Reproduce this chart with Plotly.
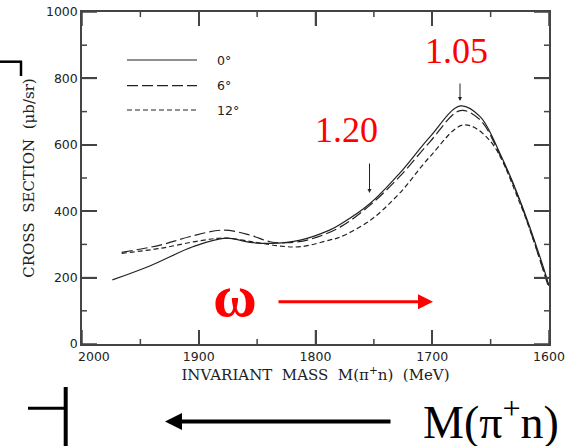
import plotly.graph_objects as go

# ---- data ----
mass_0 = [1974, 1942, 1905, 1877, 1856, 1839, 1813, 1788, 1779, 1753, 1728, 1702, 1676, 1659, 1642, 1625, 1605, 1600]
cs_0 = [193, 235, 293, 319, 306, 303, 313, 343, 360, 424, 514, 624, 717, 685, 574, 434, 233, 175]

mass_6 = [1966, 1933, 1908, 1879, 1856, 1839, 1825, 1805, 1779, 1753, 1728, 1702, 1676, 1659, 1642, 1625, 1601]
cs_6 = [276, 298, 323, 343, 328, 308, 305, 315, 352, 419, 504, 609, 703, 675, 569, 431, 178]

mass_12 = [1966, 1933, 1899, 1877, 1851, 1830, 1813, 1788, 1779, 1753, 1728, 1702, 1673, 1651, 1625, 1601]
cs_12 = [273, 288, 311, 319, 306, 295, 293, 313, 322, 373, 454, 564, 660, 614, 425, 182]

angle_labels = ["0°", "6°", "12°"]
x_tickvals = [2000, 1900, 1800, 1700, 1600]
x_ticklabels = ["\u00a0" * 6 + "2000", "1900", "1800", "1700", "1600"]
x_minor_vals = [1950, 1850, 1750, 1650]
y_tickvals = [0, 200, 400, 600, 800, 1000]
y_minor_vals = [100, 300, 500, 700, 900]
x_range = [2000, 1600]
y_range = [0, 1000]

# ---- geometry helpers (pixel -> paper) ----
W, H = 577, 446
L, R, T, B = 82, 549, 12, 344


def px(x):
    return (x - L) / (R - L)


def py(y):
    return (B - y) / (B - T)


line_col = "#222222"
axis_col = "#444444"
dash_styles = ["solid", "11px,4px", "5px,3px"]

fig = go.Figure()
for xs, ys, name, dash in zip([mass_0, mass_6, mass_12], [cs_0, cs_6, cs_12], angle_labels, dash_styles):
    fig.add_trace(go.Scatter(
        x=xs, y=ys, mode="lines", name=name, showlegend=False,
        line=dict(color=line_col, width=1.2, dash=dash, shape="spline", smoothing=1.0),
        hoverinfo="skip",
    ))

shapes = []
annotations = []

# tick marks on all four sides, positioned by the axes' own scales (pixel lengths)
tick_line = dict(color=axis_col, width=1.5)
for vals, ln in ((x_tickvals, 14), (x_minor_vals, 5)):
    for v in vals:
        for anchor, sgn in ((0, 1), (1, -1)):
            shapes.append(dict(type="line", xref="x", yref="y domain", ysizemode="pixel", yanchor=anchor,
                               x0=v, x1=v, y0=0, y1=sgn * ln, line=tick_line, layer="above"))
for vals, ln in ((y_tickvals, 15), (y_minor_vals, 5)):
    for v in vals:
        for anchor, sgn in ((0, 1), (1, -1)):
            shapes.append(dict(type="line", yref="y", xref="x domain", xsizemode="pixel", xanchor=anchor,
                               y0=v, y1=v, x0=0, x1=sgn * ln, line=tick_line, layer="above"))

# manual legend
leg_y = [60, 85.7, 110]
for lab, dash, yy in zip(angle_labels, dash_styles, leg_y):
    shapes.append(dict(type="line", xref="paper", yref="paper",
                       x0=px(127), x1=px(197), y0=py(yy), y1=py(yy),
                       line=dict(color=line_col, width=1.2, dash=dash)))
    annotations.append(dict(xref="paper", yref="paper", x=px(215), y=py(yy),
                            text=lab, showarrow=False, xanchor="left", yanchor="middle",
                            font=dict(family="DejaVu Sans", size=12.5, color="#222")))

# red labels
red = "#ff0000"
annotations.append(dict(xref="paper", yref="paper", x=px(456), y=py(51), text="1.05",
                        showarrow=False, xanchor="center", yanchor="middle",
                        font=dict(family="Liberation Serif", size=36, color=red)))
annotations.append(dict(xref="paper", yref="paper", x=px(346.5), y=py(130), text="1.20",
                        showarrow=False, xanchor="center", yanchor="middle",
                        font=dict(family="Liberation Serif", size=36, color=red)))
annotations.append(dict(xref="paper", yref="paper", x=px(235), y=py(296), text="<b>ω</b>",
                        showarrow=False, xanchor="center", yanchor="middle",
                        font=dict(family="Liberation Serif", size=60, color=red)))
# red arrow
annotations.append(dict(xref="paper", yref="paper", x=px(433), y=py(301.7), ax=-(433 - 277), ay=0,
                        text="", showarrow=True, arrowhead=2, arrowsize=1, arrowwidth=3,
                        arrowcolor=red))
# small black arrows
annotations.append(dict(xref="paper", yref="paper", x=px(460), y=py(101), ax=0, ay=-19,
                        text="", showarrow=True, arrowhead=2, arrowsize=0.8, arrowwidth=1,
                        arrowcolor="#222"))
annotations.append(dict(xref="paper", yref="paper", x=px(369.5), y=py(193), ax=0, ay=-31,
                        text="", showarrow=True, arrowhead=2, arrowsize=0.8, arrowwidth=1,
                        arrowcolor="#222"))
# big black arrow and label at the bottom
annotations.append(dict(xref="paper", yref="paper", x=px(165), y=py(421.5), ax=(392 - 165), ay=0,
                        text="", showarrow=True, arrowhead=2, arrowsize=0.85, arrowwidth=4,
                        arrowcolor="#000"))
annotations.append(dict(xref="paper", yref="paper", x=px(491), y=py(419),
                        text="M(π<sup>+</sup>n)", showarrow=False, xanchor="center", yanchor="middle",
                        font=dict(family="Liberation Serif", size=46, color="#000")))

# bracket decorations
shapes += [
    dict(type="line", xref="paper", yref="paper", x0=px(0), x1=px(22), y0=py(61.7), y1=py(61.7),
         line=dict(color="#000", width=2.5)),
    dict(type="line", xref="paper", yref="paper", x0=px(21), x1=px(21), y0=py(61), y1=py(76),
         line=dict(color="#000", width=2.5)),
    dict(type="line", xref="paper", yref="paper", x0=px(65.7), x1=px(65.7), y0=py(387), y1=py(447),
         line=dict(color="#000", width=4)),
    dict(type="line", xref="paper", yref="paper", x0=px(28), x1=px(65), y0=py(408.3), y1=py(408.3),
         line=dict(color="#000", width=3)),
]

axis_common = dict(
    showline=True, linecolor=axis_col, linewidth=1.5, mirror="ticks",
    ticks="inside", tickcolor=axis_col, tickwidth=1.5,
    showgrid=True, gridcolor="rgba(0,0,0,0)", zeroline=False,
    tickfont=dict(family="DejaVu Sans", size=12.5, color="#222"),
)

fig.update_layout(
    template="none",
    width=W, height=H,
    margin=dict(l=L, r=W - R, t=T, b=H - B, autoexpand=False),
    paper_bgcolor="white", plot_bgcolor="white",
    font=dict(family="DejaVu Sans", color="#222"),
    xaxis=dict(range=x_range, tickmode="array", tickvals=x_tickvals, ticktext=x_ticklabels, ticklen=14,
               title=dict(text="INVARIANT\u00a0 MASS\u00a0 M(π<sup>+</sup>n)\u00a0 (MeV)", standoff=7,
                          font=dict(family="DejaVu Serif", size=15, color="#222")),
               **axis_common),
    yaxis=dict(range=y_range, tickmode="array", tickvals=y_tickvals, ticklen=15,
               title=dict(text="CROSS\u00a0 SECTION\u00a0 (μb/sr)", standoff=8,
                          font=dict(family="DejaVu Serif", size=15, color="#222")),
               **axis_common),
    shapes=shapes,
    annotations=annotations,
    showlegend=False,
)

fig.write_html("out.html", config={"displayModeBar": False},
               post_script="document.body.style.margin='0';document.body.style.overflow='hidden';")
